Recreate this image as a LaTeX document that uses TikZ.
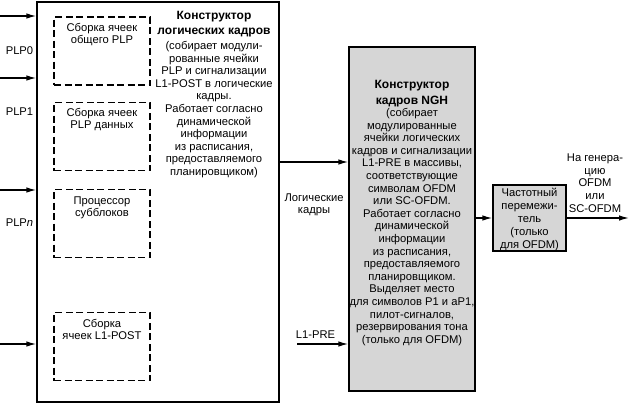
\documentclass[tikz,border=0pt]{standalone}
\usepackage{fontspec}
\setmainfont{Liberation Sans}
\usetikzlibrary{arrows.meta}
\begin{document}
\begin{tikzpicture}[x=1pt,y=-1pt,
  box/.style={draw, line width=1.3pt, inner sep=0pt},
  gbox/.style={box, fill=black!16},
  dbox/.style={draw, line width=1.1pt, dash pattern=on 7pt off 3.5pt, minimum width=96pt, minimum height=68pt, inner sep=0pt},
  txt/.style={align=center, font=\fontsize{11.2}{12.6}\selectfont, inner sep=0pt},
  ttl/.style={align=center, font=\fontsize{12}{15.5}\selectfont\bfseries, inner sep=0pt},
  arr/.style={line width=1.3pt, -{Latex[length=10pt,width=5.5pt]}}
]
\useasboundingbox (0,0) rectangle (631,405);
% main left box
\node[box, minimum width=242pt, minimum height=400pt] (lf) at (158,202) {};
\node[dbox] (d1) at (102,51) {};
\node[dbox] (d2) at (102,136.5) {};
\node[dbox] (d3) at (102,223.5) {};
\node[dbox] (d4) at (102,346.5) {};
\node[txt] (t1) at (102,34.5) {Сборка ячеек\\общего PLP};
\node[txt] (t2) at (102,119.5) {Сборка ячеек\\PLP данных};
\node[txt] (t3) at (102,208) {Процессор\\субблоков};
\node[txt] (t4) at (102,329.5) {Сборка\\ячеек L1-POST};
\node[ttl] (lt) at (214,24) {Конструктор\\логических кадров};
\node[txt] (lb) at (214,109.5) {(собирает модули-\\рованные ячейки\\PLP и сигнализации\\L1-POST в логические\\кадры.\\Работает согласно\\динамической\\информации\\из расписания,\\предоставляемого\\планировщиком)};
% inputs
\coordinate (i0) at (0,16);
\coordinate (i1) at (0,78);
\coordinate (i2) at (0,190);
\coordinate (i3) at (0,344);
\foreach \c in {i0,i1,i2,i3} \draw[arr] (\c) -- (\c -| lf.west);
\node[txt] (p0) at (19.5,51) {PLP0};
\node[txt] (p1) at (19.5,112) {PLP1};
\node[txt] (pn) at (19.5,223) {PLP\textit{n}};
% NGH box
\node[gbox, minimum width=126pt, minimum height=344pt] (ngh) at (412,219) {};
\node[ttl] (nt) at (412,93.5) {Конструктор\\кадров NGH};
\node[txt] (nb) at (412,227) {(собирает\\модулированные\\ячейки логических\\кадров и сигнализации\\L1-PRE в массивы,\\соответствующие\\символам OFDM\\или SC-OFDM.\\Работает согласно\\динамической\\информации\\из расписания,\\предоставляемого\\планировщиком.\\Выделяет место\\для символов P1 и aP1,\\пилот-сигналов,\\резервирования тона\\(только для OFDM)};
\coordinate (y162) at (0,162);
\draw[arr] (lf.east |- y162) -- (ngh.west |- y162);
\node[txt] (lk) at (314,205) {Логические\\кадры};
\coordinate (l1) at (297,344);
\draw[arr] (l1) -- (l1 -| ngh.west);
\node[txt] (l1t) at (315.5,335) {L1-PRE};
% interleaver
\node[gbox, minimum width=73pt, minimum height=66pt] (il) at (529.5,218) {};
\node[txt, font=\fontsize{11.2}{13}\selectfont] (ilt) at (529.5,219) {Частотный\\перемежи-\\тель\\(только\\для OFDM)};
\draw[arr] (il.west -| ngh.east) -- (il.west);
\coordinate (out) at (629,218);
\draw[arr] (il.east) -- (out);
\node[txt] (ot) at (595,183) {На генера-\\цию\\OFDM\\или\\SC-OFDM};
\end{tikzpicture}
\end{document}
